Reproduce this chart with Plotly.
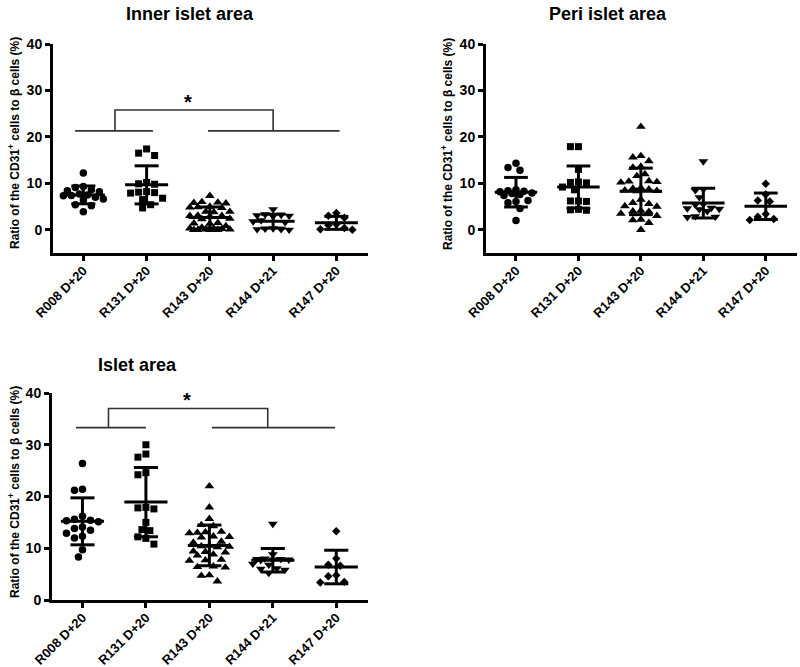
import plotly.graph_objects as go
import numpy as np

# ---------------- data ----------------
groups = ["R008 D+20", "R131 D+20", "R143 D+20", "R144 D+21", "R147 D+20"]
y_ticks = [0, 10, 20, 30, 40]

inner_r008 = [12.2, 9.3, 9.1, 8.6, 8.4, 8.2, 7.7, 7.5, 7.4, 7.3, 7.0, 6.6, 6.4, 5.4, 5.2, 3.9]
inner_r131 = [17.4, 16.5, 16.0, 10.2, 9.9, 9.8, 8.2, 8.1, 8.0, 7.9, 6.8, 6.5, 5.4, 4.7]
inner_r143 = [7.3, 6.0, 5.9, 5.8, 5.7, 5.0, 4.9, 4.8, 4.7, 3.9, 3.9, 3.8, 3.1, 3.0, 3.0, 2.9,
              2.4, 2.3, 1.5, 1.4, 1.3, 0.8, 0.5, 0.3, 0.2, 0.2, 0.1, 0.1, 0.0, 0.0, 0.0, 0.0]
inner_r144 = [4.4, 3.3, 3.2, 3.1, 3.0, 2.9, 2.0, 1.8, 1.6, 0.3, 0.2, 0.1, 0.1, 0.0]
inner_r147 = [3.6, 3.0, 2.6, 1.2, 1.0, 0.4, 0.1, 0.0]

peri_r008 = [14.3, 13.4, 12.8, 8.6, 8.4, 8.3, 8.2, 7.9, 7.8, 7.6, 7.4, 6.3, 6.1, 5.8, 4.6, 2.0]
peri_r131 = [17.9, 17.9, 13.0, 10.3, 10.2, 10.1, 9.2, 8.6, 6.2, 6.2, 6.1, 4.4, 4.3, 4.2]
peri_r143 = [22.2, 15.9, 15.6, 14.8, 13.6, 13.4, 12.0, 11.6, 10.5, 10.4, 10.3, 10.2, 9.0, 8.9, 8.7, 8.5,
             8.4, 8.3, 6.5, 5.8, 5.6, 5.1, 5.0, 4.1, 4.0, 3.9, 3.5, 3.0, 2.2, 2.1, 1.5, 0.0]
peri_r144 = [14.7, 8.7, 8.5, 7.0, 5.5, 5.4, 4.7, 4.6, 4.5, 4.4, 4.0, 2.9, 2.8, 2.7]
peri_r147 = [9.9, 7.6, 6.3, 6.1, 3.4, 2.8, 2.3, 2.1]

islet_r008 = [26.4, 21.4, 21.2, 16.2, 15.6, 15.4, 15.3, 15.1, 14.1, 13.8, 13.5, 12.9, 12.3, 12.0, 9.7, 8.3]
islet_r131 = [30.0, 28.2, 27.6, 24.6, 24.2, 17.9, 17.8, 17.6, 15.0, 13.6, 13.4, 12.2, 11.9, 10.8]
islet_r143 = [22.0, 17.9, 15.7, 14.5, 14.3, 13.2, 13.1, 13.0, 12.9, 12.3, 12.2, 12.1, 11.3, 11.1, 10.5, 10.4,
              10.3, 10.2, 9.4, 9.3, 9.2, 8.8, 8.6, 7.8, 7.7, 7.6, 6.5, 6.4, 6.3, 4.8, 4.7, 3.6]
islet_r144 = [14.7, 8.8, 8.0, 7.9, 7.9, 7.8, 7.8, 7.7, 7.0, 6.8, 6.1, 6.0, 5.8, 5.2]
islet_r147 = [13.3, 8.0, 6.8, 6.6, 4.8, 4.6, 3.5, 3.4]

inner_data = [inner_r008, inner_r131, inner_r143, inner_r144, inner_r147]
peri_data = [peri_r008, peri_r131, peri_r143, peri_r144, peri_r147]
islet_data = [islet_r008, islet_r131, islet_r143, islet_r144, islet_r147]

# significance brackets (data units)
inner_sig_left = [-0.13, 1.10]
inner_sig_right = [1.97, 4.05]
inner_sig_arms = [0.5, 3.0]
inner_sig_levels = [21.3, 25.8]
inner_star = [1.65, 27.6]

islet_sig_left = [-0.10, 1.00]
islet_sig_right = [2.04, 3.98]
islet_sig_arms = [0.41, 2.92]
islet_sig_levels = [33.3, 37.0]
islet_star = [1.65, 38.7]

# ---------------- styling / layout ----------------
W, H = 800, 667
FONT = "Liberation Sans, Arial, Helvetica, sans-serif"
XR = [-0.48, 4.5]
symbols = ["circle", "square", "triangle-up", "triangle-down", "diamond"]
msizes = [7.5, 7, 8.5, 8.5, 6.5]

panels = [
    dict(title="Inner islet area", data=inner_data, px=(53, 368), py=(44, 253), yr=(-5, 40),
         title_xy=(190, 14), ytitle_xy=(14, 143)),
    dict(title="Peri islet area", data=peri_data, px=(486, 797), py=(44, 253), yr=(-5, 40),
         title_xy=(608, 14), ytitle_xy=(447, 144)),
    dict(title="Islet area", data=islet_data, px=(52, 368), py=(393, 600), yr=(0, 40),
         title_xy=(137, 365), ytitle_xy=(14, 492)),
]


def swarm(vals, ux, uy, d, maxw):
    n = len(vals)
    order = sorted(range(n), key=lambda i: -vals[i])
    placed = []
    off = [0.0] * n
    cands = [0.0]
    k = 1
    while k * d / 2.0 <= maxw:
        cands += [-k * d / 2.0, k * d / 2.0]
        k += 1
    for i in order:
        y = vals[i] * uy
        best, best_dist = None, -1.0
        for c in cands:
            md = min([((px - c) ** 2 + (py - y) ** 2) ** 0.5 for (px, py) in placed] or [1e9])
            if md >= d * 0.99:
                best = c
                break
            if md > best_dist:
                best, best_dist = c, md
        placed.append((best, y))
        off[i] = best / ux
    return off


fig = go.Figure()
annotations = []
ytitle = "Ratio of the CD31<sup>+</sup> cells to β cells (%)"

for p_i, p in enumerate(panels):
    sfx = "" if p_i == 0 else str(p_i + 1)
    xa, ya = "x" + sfx, "y" + sfx
    ux = (p["px"][1] - p["px"][0]) / (XR[1] - XR[0])
    uy = (p["py"][1] - p["py"][0]) / (p["yr"][1] - p["yr"][0])
    for g_i, vals in enumerate(p["data"]):
        offs = swarm(vals, ux, uy, 8.0, 20.0)
        fig.add_trace(go.Scatter(
            x=[g_i + o for o in offs], y=vals, mode="markers", xaxis=xa, yaxis=ya,
            marker=dict(symbol=symbols[g_i], size=msizes[g_i], color="black", line=dict(width=0)),
            showlegend=False, hoverinfo="skip", cliponaxis=False))
    for g_i, vals in enumerate(p["data"]):
        m = float(np.mean(vals))
        s = float(np.std(vals, ddof=1))
        xs = [g_i - 0.34, g_i + 0.34, None, g_i, g_i, None,
              g_i - 0.19, g_i + 0.19, None, g_i - 0.19, g_i + 0.19]
        ys = [m, m, None, m - s, m + s, None, m + s, m + s, None, m - s, m - s]
        fig.add_trace(go.Scatter(x=xs, y=ys, mode="lines", xaxis=xa, yaxis=ya,
                                 line=dict(color="black", width=3), showlegend=False,
                                 hoverinfo="skip", cliponaxis=False))
    fig.layout["xaxis" + sfx] = dict(
        domain=[p["px"][0] / W, p["px"][1] / W], range=XR, anchor=ya, automargin=False,
        tickmode="array", tickvals=list(range(len(groups))), ticktext=groups, tickangle=-45,
        showline=True, linecolor="black", linewidth=3, ticks="outside", ticklen=5,
        tickwidth=3, tickcolor="black", showgrid=False, zeroline=False,
        ticklabelstandoff=-3,
        tickfont=dict(family=FONT, size=13, color="black", weight="bold"))
    fig.layout["yaxis" + sfx] = dict(
        domain=[1 - p["py"][1] / H, 1 - p["py"][0] / H], range=list(p["yr"]), anchor=xa,
        automargin=False, tickmode="array", tickvals=y_ticks,
        showline=True, linecolor="black", linewidth=3, ticks="outside", ticklen=5,
        tickwidth=3, tickcolor="black", showgrid=False, zeroline=False,
        tickfont=dict(family=FONT, size=14, color="black", weight="bold"))
    annotations.append(dict(text=p["title"], xref="paper", yref="paper",
                            x=p["title_xy"][0] / W, y=1 - p["title_xy"][1] / H,
                            xanchor="center", yanchor="middle", showarrow=False,
                            font=dict(family=FONT, size=18, color="black", weight="bold")))
    annotations.append(dict(text=ytitle, xref="paper", yref="paper", textangle=-90,
                            x=p["ytitle_xy"][0] / W, y=1 - p["ytitle_xy"][1] / H,
                            xanchor="center", yanchor="middle", showarrow=False,
                            font=dict(family=FONT, size=12, color="black", weight="bold")))

# significance brackets
for (xa, ya, left, right, arms, lv, star) in [
        ("x", "y", inner_sig_left, inner_sig_right, inner_sig_arms, inner_sig_levels, inner_star),
        ("x3", "y3", islet_sig_left, islet_sig_right, islet_sig_arms, islet_sig_levels, islet_star)]:
    xs = [left[0], left[1], None, right[0], right[1], None,
          arms[0], arms[0], arms[1], arms[1]]
    ys = [lv[0], lv[0], None, lv[0], lv[0], None, lv[0], lv[1], lv[1], lv[0]]
    fig.add_trace(go.Scatter(x=xs, y=ys, mode="lines", xaxis=xa, yaxis=ya,
                             line=dict(color="#333333", width=1.6), showlegend=False,
                             hoverinfo="skip", cliponaxis=False))
    annotations.append(dict(text="*", xref=xa, yref=ya, x=star[0], y=star[1],
                            xanchor="center", yanchor="middle", showarrow=False,
                            font=dict(family=FONT, size=20, color="black", weight="bold")))

fig.update_layout(width=W, height=H, margin=dict(l=0, r=0, t=0, b=0, autoexpand=False),
                  paper_bgcolor="white", plot_bgcolor="white",
                  annotations=annotations, showlegend=False)

fig.write_html("out.html", config={"displayModeBar": False},
               post_script="document.body.style.margin='0';document.body.style.padding='0';"
                           "document.body.style.overflow='hidden';")
